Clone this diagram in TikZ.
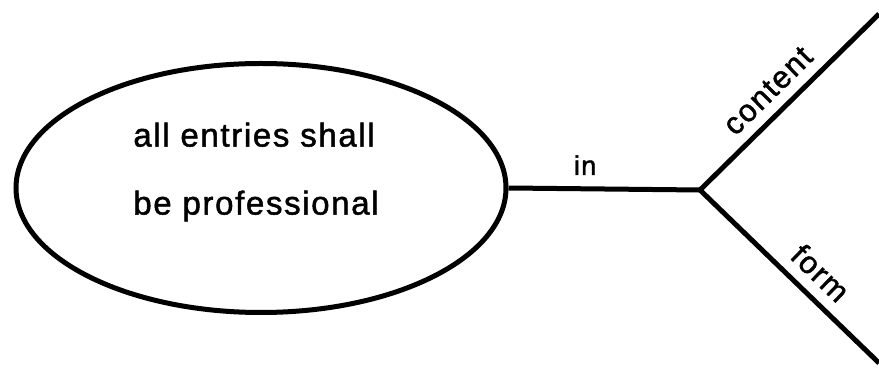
\documentclass[tikz,border=0pt]{standalone}
\usepackage{fontspec}
\setmainfont{Liberation Sans}[LetterSpace=5, FakeBold=1.5]
\usetikzlibrary{shapes.geometric}

\begin{document}
\begin{tikzpicture}[x=1pt, y=1pt, line width=5pt]
\useasboundingbox (0, 0) rectangle (879, 372);
\node (goal) at (261, 184) [draw, ellipse, minimum width=490pt, minimum height=249pt, inner sep=0pt] {};
\node (goaltext) at (goal.center) [xshift=-5pt, yshift=16pt, align=left,
  font=\fontsize{33}{68}\selectfont] {all entries shall\\be professional};
\coordinate (fork) at (700, 182);
\coordinate (upper) at (879, 358);
\coordinate (lower) at (879, 9);
\draw (goal.east) -- (fork) node (inlabel) [pos=0.4, above=8pt, font=\fontsize{27}{30}\selectfont] {in};
\draw [line join=round] (lower) -- (fork) -- (upper);
\path (fork) -- (upper) node (contentlabel) [pos=0.47, sloped, above=7pt, font=\fontsize{31}{30}\selectfont] {content};
\path (fork) -- (lower) node (formlabel) [pos=0.58, sloped, above=7pt, font=\fontsize{31}{30}\selectfont] {form};
\end{tikzpicture}
\end{document}
